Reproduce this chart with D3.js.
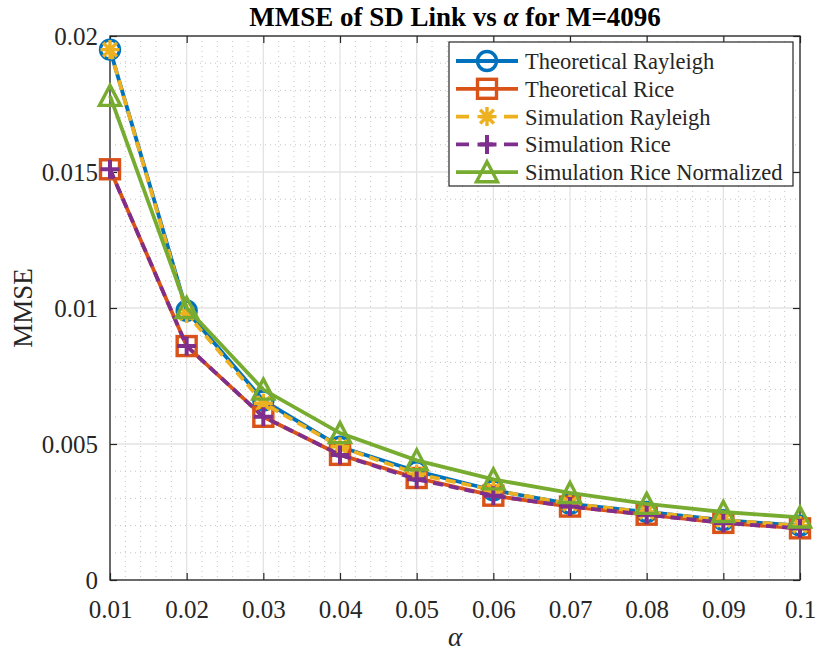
<!DOCTYPE html>
<html>
<head>
<meta charset="utf-8">
<script src="https://cdn.jsdelivr.net/npm/d3@7"></script>
<style>
  body { margin: 0; background: #fff; }
  svg text { font-family: "Liberation Serif", "Times New Roman", Times, serif; fill: #262626; }
</style>
</head>
<body>
<svg class="chart"></svg>
<script>
'use strict';

// data
var alphas = [0.01, 0.02, 0.03, 0.04, 0.05, 0.06, 0.07, 0.08, 0.09, 0.1];
var theoRayleigh = [0.0195, 0.0099, 0.0066, 0.0049, 0.0040, 0.0033, 0.0028, 0.0025, 0.0022, 0.0020];
var theoRice     = [0.0151, 0.0086, 0.0060, 0.0046, 0.00375, 0.0031, 0.0027, 0.0024, 0.0021, 0.0019];
var simRayleigh  = [0.0195, 0.0098, 0.0065, 0.0049, 0.0039, 0.0033, 0.0028, 0.0025, 0.0022, 0.0020];
var simRice      = [0.0151, 0.0086, 0.0060, 0.0046, 0.0037, 0.0031, 0.0027, 0.0024, 0.0021, 0.0019];
var simRiceNorm  = [0.0178, 0.0100, 0.0070, 0.0054, 0.0044, 0.0037, 0.0032, 0.0028, 0.0025, 0.0023];
var xTicks = [0.01, 0.02, 0.03, 0.04, 0.05, 0.06, 0.07, 0.08, 0.09, 0.1];
var xTickLabels = ["0.01", "0.02", "0.03", "0.04", "0.05", "0.06", "0.07", "0.08", "0.09", "0.1"];
var yTicks = [0, 0.005, 0.01, 0.015, 0.02];
var yTickLabels = ["0", "0.005", "0.01", "0.015", "0.02"];

var series = [
  {name: "Theoretical Rayleigh", values: theoRayleigh, color: "#0072BD", dash: null, marker: "circle"},
  {name: "Theoretical Rice", values: theoRice, color: "#D95319", dash: null, marker: "square"},
  {name: "Simulation Rayleigh", values: simRayleigh, color: "#EDB120", dash: "10,6", marker: "star"},
  {name: "Simulation Rice", values: simRice, color: "#7E2F8E", dash: "10,6", marker: "plus"},
  {name: "Simulation Rice Normalized", values: simRiceNorm, color: "#77AC30", dash: null, marker: "triangle"}
];

var W = 818, H = 655;
var margin = {top: 36, right: 18, bottom: 75, left: 110},
    width = W - margin.left - margin.right,
    height = H - margin.top - margin.bottom;
var FONT = "'Liberation Serif', 'Times New Roman', Times, serif";

var svg = d3.select(".chart").attr("width", W).attr("height", H);
var chart = svg.append("g").attr("transform", "translate(" + margin.left + "," + margin.top + ")");

var x = d3.scaleLinear().domain([0.01, 0.1]).range([0, width]);
var y = d3.scaleLinear().domain([0, 0.02]).range([height, 0]);

// minor grid
var xMinor = d3.range(0.012, 0.1, 0.002).filter(function(v) { return Math.abs(v * 100 - Math.round(v * 100)) > 1e-6; });
var yMinor = d3.range(0.001, 0.02, 0.001).filter(function(v) { return Math.abs(v * 200 - Math.round(v * 200)) > 1e-6; });

chart.selectAll(".xminor").data(xMinor).enter().append("line")
  .attr("x1", function(d) { return x(d); }).attr("x2", function(d) { return x(d); })
  .attr("y1", 0).attr("y2", height)
  .style("stroke", "#c4c4c4").style("stroke-width", 1).style("stroke-dasharray", "1,4");
chart.selectAll(".yminor").data(yMinor).enter().append("line")
  .attr("y1", function(d) { return y(d); }).attr("y2", function(d) { return y(d); })
  .attr("x1", 0).attr("x2", width)
  .style("stroke", "#c4c4c4").style("stroke-width", 1).style("stroke-dasharray", "1,4");

// major grid
chart.selectAll(".xgrid").data(xTicks).enter().append("line")
  .attr("x1", function(d) { return x(d); }).attr("x2", function(d) { return x(d); })
  .attr("y1", 0).attr("y2", height)
  .style("stroke", "#e3e3e3").style("stroke-width", 1.3);
chart.selectAll(".ygrid").data(yTicks).enter().append("line")
  .attr("y1", function(d) { return y(d); }).attr("y2", function(d) { return y(d); })
  .attr("x1", 0).attr("x2", width)
  .style("stroke", "#e3e3e3").style("stroke-width", 1.3);

// axes (inward ticks, box)
var axisColor = "#262626";
function styleAxis(g) {
  g.attr("font-family", null);
  g.select(".domain").remove();
  g.selectAll(".tick line").style("stroke", axisColor).style("stroke-width", 1.2);
  g.selectAll(".tick text").style("font-size", "25px").style("fill", axisColor)
    .style("font-family", FONT);
}
chart.append("g").attr("transform", "translate(0," + height + ")")
  .call(d3.axisBottom(x).tickValues(xTicks).tickSizeInner(-7).tickSizeOuter(0).tickPadding(20)
    .tickFormat(function(d, i) { return xTickLabels[i]; }))
  .call(styleAxis);
chart.append("g")
  .call(d3.axisTop(x).tickValues(xTicks).tickSizeInner(-7).tickSizeOuter(0).tickFormat(""))
  .call(styleAxis);
chart.append("g")
  .call(d3.axisLeft(y).tickValues(yTicks).tickSizeInner(-7).tickSizeOuter(0).tickPadding(12)
    .tickFormat(function(d, i) { return yTickLabels[i]; }))
  .call(styleAxis);
chart.append("g").attr("transform", "translate(" + width + ",0)")
  .call(d3.axisRight(y).tickValues(yTicks).tickSizeInner(-7).tickSizeOuter(0).tickFormat(""))
  .call(styleAxis);

chart.append("rect").attr("x", 0).attr("y", 0).attr("width", width).attr("height", height)
  .style("fill", "none").style("stroke", axisColor).style("stroke-width", 1.3);

// markers
function drawMarker(g, type, color, cx, cy) {
  var s = 9.5;
  if (type === "circle") {
    g.append("circle").attr("cx", cx).attr("cy", cy).attr("r", s)
      .style("fill", "none").style("stroke", color).style("stroke-width", 3.4);
  } else if (type === "square") {
    g.append("rect").attr("x", cx - s).attr("y", cy - s).attr("width", 2 * s).attr("height", 2 * s)
      .style("fill", "none").style("stroke", color).style("stroke-width", 3.4);
  } else if (type === "triangle") {
    g.append("path")
      .attr("d", "M" + cx + "," + (cy - s - 1) + "L" + (cx + s + 1) + "," + (cy + s) + "L" + (cx - s - 1) + "," + (cy + s) + "Z")
      .style("fill", "none").style("stroke", color).style("stroke-width", 3.4).style("stroke-linejoin", "miter");
  } else if (type === "plus") {
    g.append("path")
      .attr("d", "M" + (cx - s) + "," + cy + "H" + (cx + s) + "M" + cx + "," + (cy - s) + "V" + (cy + s))
      .style("stroke", color).style("stroke-width", 4);
  } else if (type === "star") {
    var d7 = s * 0.72;
    g.append("path")
      .attr("d", "M" + (cx - s) + "," + cy + "H" + (cx + s) + "M" + cx + "," + (cy - s) + "V" + (cy + s)
        + "M" + (cx - d7) + "," + (cy - d7) + "L" + (cx + d7) + "," + (cy + d7)
        + "M" + (cx - d7) + "," + (cy + d7) + "L" + (cx + d7) + "," + (cy - d7))
      .style("stroke", color).style("stroke-width", 3.4);
  }
}

var line = d3.line()
  .x(function(d, i) { return x(alphas[i]); })
  .y(function(d) { return y(d); });

series.forEach(function(s) {
  var g = chart.append("g");
  g.append("path").datum(s.values).attr("d", line)
    .style("fill", "none").style("stroke", s.color).style("stroke-width", 3.8)
    .style("stroke-dasharray", s.dash);
  s.values.forEach(function(v, i) { drawMarker(g, s.marker, s.color, x(alphas[i]), y(v)); });
});

// legend
var leg = svg.append("g").attr("transform", "translate(449,42)");
leg.append("rect").attr("x", 0).attr("y", 0).attr("width", 344).attr("height", 144)
  .style("fill", "#fff").style("stroke", axisColor).style("stroke-width", 1.2);
series.forEach(function(s, i) {
  var cy = 19 + i * 27.8;
  var row = leg.append("g");
  row.append("line").attr("x1", 7).attr("x2", 69).attr("y1", cy).attr("y2", cy)
    .style("stroke", s.color).style("stroke-width", 3.8)
    .style("stroke-dasharray", s.dash ? "13,11,13,11,14" : null);
  drawMarker(row, s.marker, s.color, 38, cy);
  row.append("text").attr("x", 76).attr("y", cy + 8).text(s.name)
    .style("font-size", "22.5px").style("font-family", FONT);
});

// title and labels
var title = svg.append("text").attr("x", margin.left + width / 2).attr("y", 26)
  .attr("text-anchor", "middle").style("font-size", "27px").style("font-weight", "bold")
  .style("font-family", FONT).style("fill", "#000");
title.append("tspan").text("MMSE of SD Link vs ");
title.append("tspan").text("α").style("font-style", "italic");
title.append("tspan").text(" for M=4096");

svg.append("text").attr("x", margin.left + width / 2).attr("y", 646)
  .attr("text-anchor", "middle").style("font-size", "27px").style("font-style", "italic")
  .style("font-family", FONT).text("α");

svg.append("text").attr("transform", "translate(32," + (margin.top + height / 2) + ") rotate(-90)")
  .attr("text-anchor", "middle").style("font-size", "27px").style("font-family", FONT).text("MMSE");
</script>
</body>
</html>
